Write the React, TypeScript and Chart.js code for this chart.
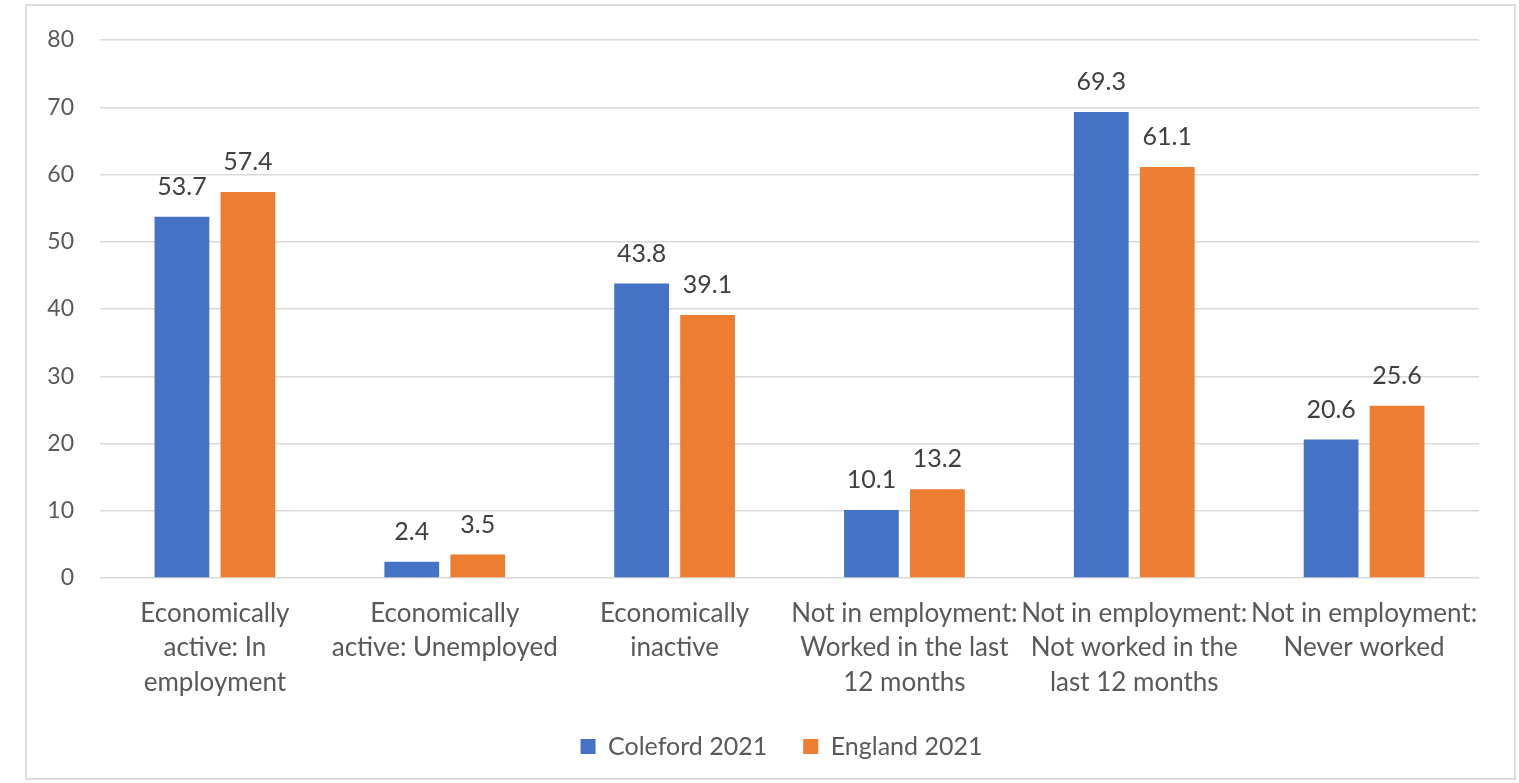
import React, { useEffect, useRef } from "react";
import { Chart, registerables } from "chart.js";

Chart.register(...registerables);

const categories: string[][] = [
  ["Economically", "active: In", "employment"],
  ["Economically", "active: Unemployed"],
  ["Economically", "inactive"],
  ["Not in employment:", "Worked in the last", "12 months"],
  ["Not in employment:", "Not worked in the", "last 12 months"],
  ["Not in employment:", "Never worked"],
];
const colefordValues = [53.7, 2.4, 43.8, 10.1, 69.3, 20.6];
const englandValues = [57.4, 3.5, 39.1, 13.2, 61.1, 25.6];
const seriesNames = ["Coleford 2021", "England 2021"];

const FONT = "Lato, 'Open Sans', sans-serif";
const TEXT = "#595959";

const valueLabels = {
  id: "valueLabels",
  afterDatasetsDraw(chart: any) {
    const ctx = chart.ctx;
    ctx.save();
    ctx.font = `25px ${FONT}`;
    ctx.fillStyle = "#404040";
    ctx.textAlign = "center";
    ctx.textBaseline = "middle";
    chart.data.datasets.forEach((ds: any, i: number) => {
      const meta = chart.getDatasetMeta(i);
      meta.data.forEach((bar: any, j: number) => {
        ctx.fillText(String(ds.data[j]), bar.x, bar.y - 30);
      });
    });
    ctx.restore();
  },
};

const legendShift = {
  id: "legendShift",
  afterLayout(chart: any) {
    if (chart.legend) {
      chart.legend.left += 42;
      chart.legend.right += 42;
    }
  },
};

export default function App() {
  const ref = useRef<HTMLCanvasElement>(null);
  useEffect(() => {
    document.body.style.margin = "0";
    const chart = new Chart(ref.current!, {
      type: "bar",
      data: {
        labels: categories,
        datasets: [
          {
            label: seriesNames[0],
            data: colefordValues,
            backgroundColor: "#4472C4",
            categoryPercentage: 0.574,
            barPercentage: 0.83,
          },
          {
            label: seriesNames[1],
            data: englandValues,
            backgroundColor: "#ED7D31",
            categoryPercentage: 0.574,
            barPercentage: 0.83,
          },
        ],
      },
      options: {
        responsive: false,
        animation: false,
        layout: { padding: { left: 0, right: 40, top: 40, bottom: 14 } },
        scales: {
          x: {
            grid: { display: false, drawTicks: false },
            border: { display: false },
            ticks: {
              color: TEXT,
              font: { family: FONT, size: 26, lineHeight: 1.33 },
              padding: 18,
              maxRotation: 0,
              autoSkip: false,
            },
            afterFit: (s: any) => {
              s.height = 120;
            },
          },
          y: {
            min: 0,
            max: 80,
            ticks: {
              stepSize: 10,
              color: TEXT,
              font: { family: FONT, size: 23 },
              padding: 26,
            },
            grid: { color: "#D9D9D9", lineWidth: 1.5, drawTicks: false },
            border: { display: false },
            afterFit: (s: any) => {
              s.width = 100;
            },
          },
        },
        plugins: {
          legend: {
            position: "bottom",
            labels: {
              color: TEXT,
              font: { family: FONT, size: 25 },
              boxWidth: 15,
              boxHeight: 15,
              padding: 36,
            },
          },
          tooltip: { enabled: false },
        },
      },
      plugins: [valueLabels, legendShift],
    });
    return () => chart.destroy();
  }, []);
  return (
    <div style={{ position: "relative", width: 1519, height: 783, background: "#fff" }}>
      <div
        style={{
          position: "absolute",
          left: 25,
          top: 4,
          width: 1487,
          height: 772,
          border: "2px solid #DDDDDD",
        }}
      />
      <canvas
        ref={ref}
        width={1519}
        height={783}
        style={{ position: "absolute", left: 0, top: 0 }}
      />
    </div>
  );
}
